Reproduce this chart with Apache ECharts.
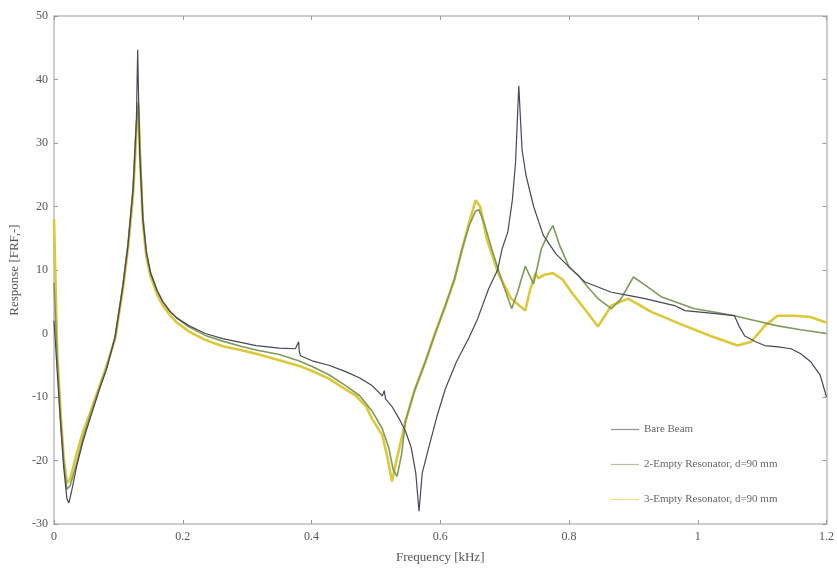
<!DOCTYPE html>
<html>
<head>
<meta charset="utf-8">
<script src="https://cdn.jsdelivr.net/npm/echarts@6/dist/echarts.min.js"></script>
<style>html,body{margin:0;padding:0;background:#fff;}#c{width:837px;height:569px;}</style>
</head>
<body>
<div id="c"></div>
<script>
const seriesNames = ['Bare Beam', '2-Empty Resonator, d=90 mm', '3-Empty Resonator, d=90 mm'];
const xTicks = [0, 0.2, 0.4, 0.6, 0.8, 1, 1.2];
const yTicks = [-30, -20, -10, 0, 10, 20, 30, 40, 50];

const freqBare = [0, 0.005, 0.01, 0.015, 0.02, 0.023, 0.027, 0.035, 0.045, 0.056, 0.07, 0.082, 0.095, 0.107, 0.115, 0.123, 0.128, 0.13, 0.133, 0.138, 0.1435, 0.15, 0.16, 0.169, 0.18, 0.19, 0.21, 0.235, 0.262, 0.29, 0.314, 0.35, 0.375, 0.38, 0.381, 0.383, 0.401, 0.427, 0.453, 0.475, 0.494, 0.51, 0.513, 0.515, 0.517, 0.525, 0.536, 0.546, 0.555, 0.562, 0.567, 0.572, 0.582, 0.595, 0.608, 0.625, 0.644, 0.658, 0.675, 0.689, 0.696, 0.705, 0.712, 0.717, 0.722, 0.727, 0.733, 0.745, 0.76, 0.78, 0.8, 0.825, 0.866, 0.892, 0.918, 0.964, 0.98, 1.02, 1.057, 1.065, 1.073, 1.09, 1.104, 1.125, 1.145, 1.16, 1.175, 1.19, 1.2];
const valBare = [2, -6, -14, -21, -26, -26.7, -25, -21, -17, -13.4, -9, -5.5, -0.5, 7.5, 14, 23, 33.7, 44.7, 28.5, 18, 12.8, 9.5, 6.8, 5, 3.5, 2.5, 1.2, 0, -0.8, -1.4, -1.9, -2.3, -2.4, -1.3, -2.8, -3.5, -4.3, -5, -6, -7, -8.2, -9.8, -9, -10.3, -10.5, -11.5, -13.4, -15.4, -18, -22, -28, -22, -18, -13, -8.7, -4.5, -0.8, 2.3, 7, 10, 13.3, 16, 21, 27, 39, 29, 25, 20, 15.5, 12.5, 10.5, 8.1, 6.5, 6, 5.5, 4.4, 3.6, 3.2, 2.8, 1, -0.4, -1.3, -1.9, -2.1, -2.4, -3.2, -4.4, -6.5, -10];

const freq2Empty = [0, 0.005, 0.01, 0.015, 0.02, 0.025, 0.035, 0.045, 0.056, 0.07, 0.082, 0.095, 0.107, 0.115, 0.123, 0.128, 0.131, 0.134, 0.138, 0.1435, 0.15, 0.16, 0.169, 0.18, 0.19, 0.21, 0.235, 0.262, 0.29, 0.314, 0.35, 0.38, 0.401, 0.427, 0.453, 0.475, 0.494, 0.51, 0.52, 0.527, 0.533, 0.54, 0.546, 0.56, 0.577, 0.592, 0.608, 0.622, 0.634, 0.645, 0.655, 0.66, 0.668, 0.68, 0.695, 0.711, 0.72, 0.732, 0.745, 0.757, 0.768, 0.775, 0.785, 0.8, 0.815, 0.83, 0.845, 0.866, 0.881, 0.9, 0.92, 0.943, 0.97, 0.995, 1.03, 1.057, 1.09, 1.124, 1.16, 1.2];
const val2Empty = [8, -4, -13, -20, -24.5, -24, -20.5, -16.5, -13, -8.8, -5.3, -0.5, 7.5, 14, 23, 33, 36.5, 28, 18.5, 12.8, 9.6, 6.8, 5, 3.5, 2.5, 1.0, -0.3, -1.2, -2, -2.6, -3.3, -4.3, -5.2, -6.5, -8.2, -9.8, -12.2, -15, -18, -21.5, -22.5, -19, -13.8, -9, -4.4, 0, 4.4, 8.5, 13.3, 17, 19.3, 19.5, 17.5, 13.3, 8.5, 3.9, 6.5, 10.6, 7.8, 13.3, 15.8, 17, 14, 10.5, 9.1, 7.2, 5.5, 3.9, 5.5, 8.9, 7.5, 5.8, 4.8, 3.9, 3.3, 2.8, 2, 1.2, 0.6, 0];

const freq3Empty = [0, 0.005, 0.01, 0.015, 0.02, 0.025, 0.035, 0.045, 0.056, 0.07, 0.082, 0.095, 0.107, 0.115, 0.123, 0.128, 0.131, 0.134, 0.138, 0.1435, 0.15, 0.16, 0.169, 0.18, 0.19, 0.21, 0.235, 0.262, 0.29, 0.314, 0.35, 0.381, 0.401, 0.427, 0.45, 0.469, 0.485, 0.494, 0.51, 0.518, 0.525, 0.532, 0.546, 0.56, 0.577, 0.592, 0.608, 0.622, 0.634, 0.645, 0.655, 0.662, 0.672, 0.69, 0.71, 0.722, 0.732, 0.74, 0.748, 0.752, 0.763, 0.775, 0.79, 0.804, 0.824, 0.845, 0.866, 0.892, 0.928, 0.98, 1.02, 1.062, 1.083, 1.104, 1.124, 1.15, 1.175, 1.197, 1.2];
const val3Empty = [18, -3, -12, -19.5, -23.5, -23, -19, -15.5, -12.5, -8.5, -5, -0.8, 7, 13.5, 22, 32, 36, 27, 17.5, 12, 9, 6.2, 4.4, 2.9, 1.8, 0.3, -1.0, -2, -2.6, -3.2, -4.2, -5.1, -5.9, -7.1, -8.6, -9.8, -11.5, -13.4, -16, -19.5, -23.3, -20, -13.8, -9, -4.4, 0, 4.4, 8.5, 13.3, 17.5, 21, 20, 15, 9.5, 5.5, 4.5, 3.6, 7, 9.5, 8.7, 9.3, 9.5, 8.5, 6.5, 3.9, 1.1, 4.4, 5.5, 3.4, 1.2, -0.4, -1.9, -1.3, 1.2, 2.8, 2.8, 2.6, 1.8, 1.8];

const zip = (xs, ys) => xs.map((x, i) => [x, ys[i]]);
const font = 'Liberation Serif';
const axisCol = '#bdbdbd';
const txtCol = '#555';
const colors = ['#4a4658', '#7f9a5a', '#dcc838'];

const chart = echarts.init(document.getElementById('c'), null, {renderer: 'canvas'});
const baseX = {
  type: 'value', min: 0, max: 1.2, interval: 0.2,
  axisLine: {show: true, onZero: false, lineStyle: {color: axisCol, width: 1.5}},
  axisTick: {show: true, inside: true, length: 4, lineStyle: {color: '#999'}},
  splitLine: {show: false}
};
const baseY = {
  type: 'value', min: -30, max: 50, interval: 10,
  axisLine: {show: true, onZero: false, lineStyle: {color: axisCol, width: 1.5}},
  axisTick: {show: true, inside: true, length: 4, lineStyle: {color: '#999'}},
  splitLine: {show: false}
};
chart.setOption({
  animation: false,
  backgroundColor: '#fff',
  grid: {left: 54, right: 8, top: 16, bottom: 43},
  xAxis: [
    Object.assign({}, baseX, {
      position: 'bottom',
      name: 'Frequency [kHz]', nameLocation: 'middle', nameGap: 27,
      nameTextStyle: {fontFamily: font, fontSize: 13, color: txtCol},
      axisLabel: {fontFamily: font, fontSize: 12, color: txtCol, margin: 7,
        formatter: v => String(xTicks.find(t => Math.abs(t - v) < 1e-9) ?? v)}
    }),
    Object.assign({}, baseX, {position: 'top', axisLabel: {show: false}})
  ],
  yAxis: [
    Object.assign({}, baseY, {
      position: 'left',
      name: 'Response [FRF,-]', nameLocation: 'middle', nameGap: 32,
      nameTextStyle: {fontFamily: font, fontSize: 13, color: txtCol},
      axisLabel: {fontFamily: font, fontSize: 12, color: txtCol, margin: 6,
        formatter: v => String(yTicks.find(t => Math.abs(t - v) < 1e-9) ?? v)}
    }),
    Object.assign({}, baseY, {position: 'right', axisLabel: {show: false}})
  ],
  legend: {
    orient: 'vertical', left: 606, top: 419,
    itemWidth: 28, itemHeight: 12, itemGap: 24,
    textStyle: {fontFamily: font, fontSize: 11, color: '#666'},
    data: seriesNames.map((n, i) => ({name: n, icon: 'path://M0,5 L28,5 L28,6.2 L0,6.2 Z', itemStyle: {color: colors[i], opacity: 0.6}}))
  },
  series: [
    {name: seriesNames[0], type: 'line', data: zip(freqBare, valBare), symbol: 'none', z: 5,
      lineStyle: {color: colors[0], width: 1.2}, itemStyle: {color: colors[0]}},
    {name: seriesNames[1], type: 'line', data: zip(freq2Empty, val2Empty), symbol: 'none', z: 4,
      lineStyle: {color: colors[1], width: 1.6}, itemStyle: {color: colors[1]}},
    {name: seriesNames[2], type: 'line', data: zip(freq3Empty, val3Empty), symbol: 'none', z: 3,
      lineStyle: {color: colors[2], width: 2.6}, itemStyle: {color: colors[2]}}
  ]
});
</script>
</body>
</html>
